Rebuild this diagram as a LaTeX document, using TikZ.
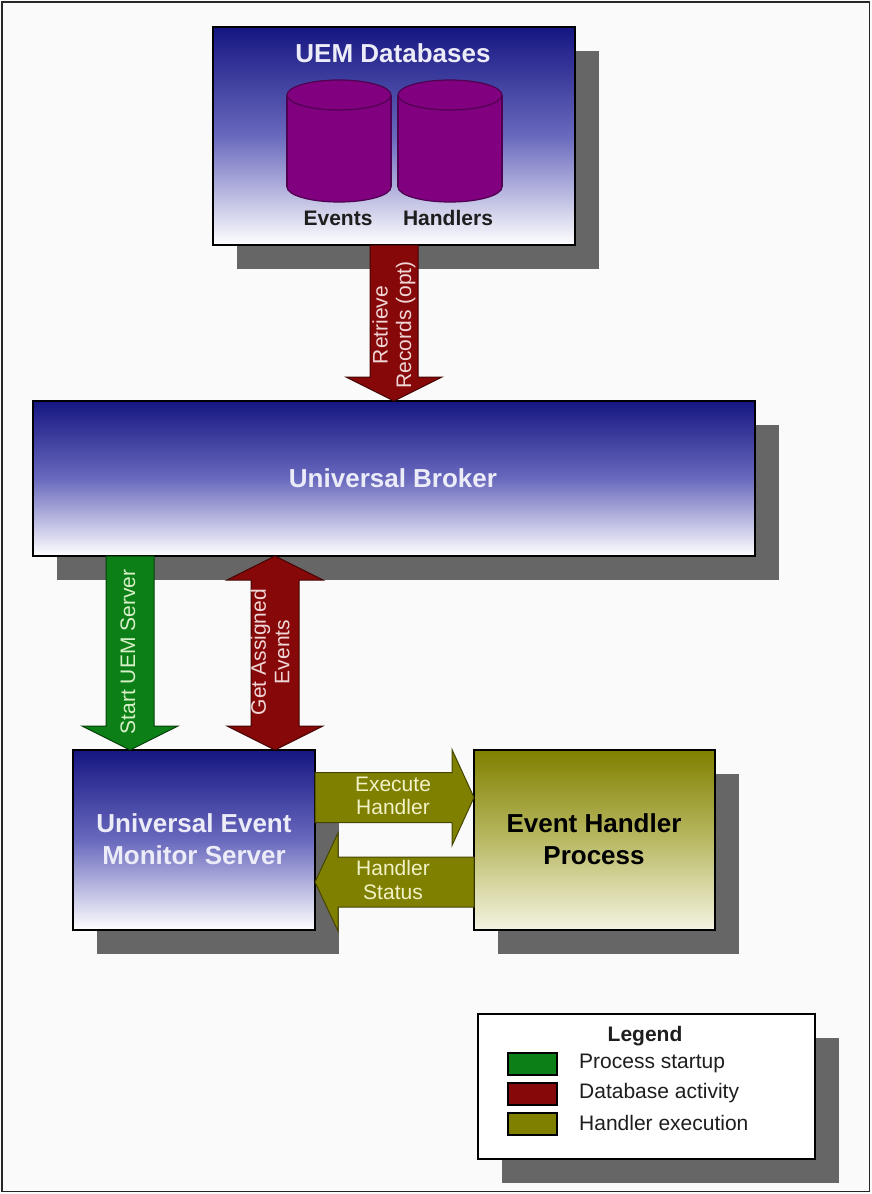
\documentclass[tikz,border=0pt]{standalone}
\usepackage{fontspec}
\setmainfont{Liberation Sans}
\usetikzlibrary{calc,backgrounds}
\definecolor{bg}{RGB}{250,250,250}
\definecolor{navy}{RGB}{22,22,130}
\definecolor{midblue}{RGB}{105,105,190}
\definecolor{shadowgray}{RGB}{102,102,102}
\definecolor{dbred}{RGB}{135,8,8}
\definecolor{stgreen}{RGB}{12,128,22}
\definecolor{hdolive}{RGB}{128,128,0}
\definecolor{olivemid}{RGB}{185,185,100}
\definecolor{olivelight}{RGB}{244,244,226}
\definecolor{purp}{RGB}{128,0,128}
\definecolor{purpdark}{RGB}{80,0,80}
\definecolor{titlewhite}{RGB}{236,236,248}
\definecolor{redtext}{RGB}{240,215,215}
\definecolor{greentext}{RGB}{215,240,200}
\definecolor{olivetext}{RGB}{242,242,200}
\definecolor{darktext}{RGB}{30,30,30}
\tikzset{
  box/.style={draw=black, line width=1.2pt, inner sep=0pt, outer sep=0pt},
  bluebox/.style={box, top color=navy, bottom color=white, middle color=midblue},
  olivebox/.style={box, top color=hdolive, bottom color=olivelight, middle color=olivemid},
  titletext/.style={font=\fontsize{26}{32}\selectfont\bfseries, align=center, inner sep=0pt},
  dbtext/.style={font=\fontsize{21}{24}\selectfont\bfseries, text=darktext, inner sep=0pt},
  arrowtext/.style={font=\fontsize{21}{23.5}\selectfont, align=center, inner sep=0pt},
  legtext/.style={font=\fontsize{21}{24}\selectfont, text=darktext, inner sep=0pt, anchor=west},
  redarrow/.style={fill=dbred, draw=dbred!50!black, line width=1pt, line join=miter},
  greenarrow/.style={fill=stgreen, draw=stgreen!50!black, line width=1pt, line join=miter},
  olivearrow/.style={fill=hdolive, draw=hdolive!55!black, line width=1pt, line join=miter},
  cyl/.style={fill=purp, draw=purpdark, line width=1.2pt},
  swatch/.style={draw=black, line width=1.2pt, minimum width=49pt, minimum height=22pt, inner sep=0pt}
}
\newcommand\blkdown[3]{\filldraw[#3] let \p1=(#1), \p2=(#2) in
  (\x1-24pt,\y1) -- (\x1+24pt,\y1) -- (\x1+24pt,\y2+24pt) -- (\x1+48pt,\y2+24pt) --
  (\x1,\y2) -- (\x1-48pt,\y2+24pt) -- (\x1-24pt,\y2+24pt) -- cycle;}
\newcommand\blkdouble[3]{\filldraw[#3] let \p1=(#1), \p2=(#2) in
  (\x1,\y1) -- (\x1+48pt,\y1-24pt) -- (\x1+24pt,\y1-24pt) -- (\x1+24pt,\y2+24pt) --
  (\x1+48pt,\y2+24pt) -- (\x1,\y2) -- (\x1-48pt,\y2+24pt) -- (\x1-24pt,\y2+24pt) --
  (\x1-24pt,\y1-24pt) -- (\x1-48pt,\y1-24pt) -- cycle;}
\newcommand\blkright[3]{\filldraw[#3] let \p1=(#1), \p2=(#2) in
  (\x1,\y1+25pt) -- (\x2-22pt,\y1+25pt) -- (\x2-22pt,\y1+48pt) -- (\x2,\y1) --
  (\x2-22pt,\y1-48pt) -- (\x2-22pt,\y1-25pt) -- (\x1,\y1-25pt) -- cycle;}
\newcommand\blkleft[3]{\filldraw[#3] let \p1=(#1), \p2=(#2) in
  (\x1,\y1+25pt) -- (\x2+23pt,\y1+25pt) -- (\x2+23pt,\y1+49pt) -- (\x2,\y1) --
  (\x2+23pt,\y1-49pt) -- (\x2+23pt,\y1-25pt) -- (\x1,\y1-25pt) -- cycle;}
\begin{document}
\begin{tikzpicture}[x=1pt,y=-1pt]
\useasboundingbox (0,0) rectangle (872,1194);

% boxes
\node[bluebox, minimum width=362pt, minimum height=218pt] (db) at (394,136) {};
\node[bluebox, minimum width=722pt, minimum height=155pt] (ub) at (394,478.5) {};
\node[bluebox, minimum width=242pt, minimum height=180pt] (uems) at (194,840) {};
\node[olivebox, minimum width=241pt, minimum height=180pt] (ehp) at (594.5,840) {};
\node[box, fill=white, minimum width=337pt, minimum height=145pt] (legend) at (646.5,1086.5) {};

% shadows and background
\begin{scope}[on background layer]
  \fill[bg] (0,0) rectangle (872,1194);
  \foreach \b in {db,ub,uems,ehp,legend}
    \fill[shadowgray] ($(\b.south west)+(24,24)$) rectangle ($(\b.north east)+(24,24)$);
\end{scope}

% database cylinders
\foreach \cx in {339,450}{
  \draw[cyl] (\cx,187) ellipse [x radius=52, y radius=15];
  \fill[purp] (\cx-52,95) rectangle (\cx+52,187);
  \draw[purpdark, line width=1.2pt] (\cx-52,95) -- (\cx-52,187) (\cx+52,95) -- (\cx+52,187);
  \draw[cyl] (\cx,95) ellipse [x radius=52, y radius=15];
}

% texts in boxes
\node[titletext, text=titlewhite] (dbt) at (393,53) {UEM Databases};
\node[dbtext] (ev) at (338,218) {Events};
\node[dbtext] (hd) at (448,218) {Handlers};
\node[titletext, text=titlewhite] (ubt) at (393,478) {Universal Broker};
\node[titletext, text=titlewhite] (uemst) at (194,839) {Universal Event\\Monitor Server};
\node[titletext, text=black] (ehpt) at (594,839) {Event Handler\\Process};

% helper coordinates
\coordinate (gx) at (130,0);
\coordinate (rx) at (275,0);
\coordinate (ex) at (0,797.5);
\coordinate (sx) at (0,882);

% block arrows
\blkdown{db.south}{ub.north}{redarrow}
\blkdown{ub.south -| gx}{uems.north -| gx}{greenarrow}
\blkdouble{ub.south -| rx}{uems.north -| rx}{redarrow}
\blkright{uems.east |- ex}{ehp.west |- ex}{olivearrow}
\blkleft{ehp.west |- sx}{uems.east |- sx}{olivearrow}

% arrow labels
\node[arrowtext, text=redtext, rotate=90] (rr) at (394,325) {Retrieve\\Records (opt)};
\node[arrowtext, text=greentext, rotate=90] (su) at (128,652) {Start UEM Server};
\node[arrowtext, text=redtext, rotate=90] (ga) at (270,652) {Get Assigned\\Events};
\node[arrowtext, text=olivetext] (xh) at (393,796) {Execute\\Handler};
\node[arrowtext, text=olivetext] (hs) at (393,880) {Handler\\Status};

% legend
\node[font=\fontsize{21}{24}\selectfont\bfseries, text=darktext, inner sep=0pt] (lt) at (645,1036) {Legend};
\node[swatch, fill=stgreen] (sw1) at (532.5,1064) {};
\node[swatch, fill=dbred] (sw2) at (532.5,1094) {};
\node[swatch, fill=hdolive] (sw3) at (532.5,1124) {};
\node[legtext] (l1) at (579,1063) {Process startup};
\node[legtext] (l2) at (579,1093) {Database activity};
\node[legtext] (l3) at (579,1123) {Handler execution};

% outer frame
\draw[line width=1.5pt, black!85] (2,2) rectangle (869.5,1191.5);
\end{tikzpicture}
\end{document}
